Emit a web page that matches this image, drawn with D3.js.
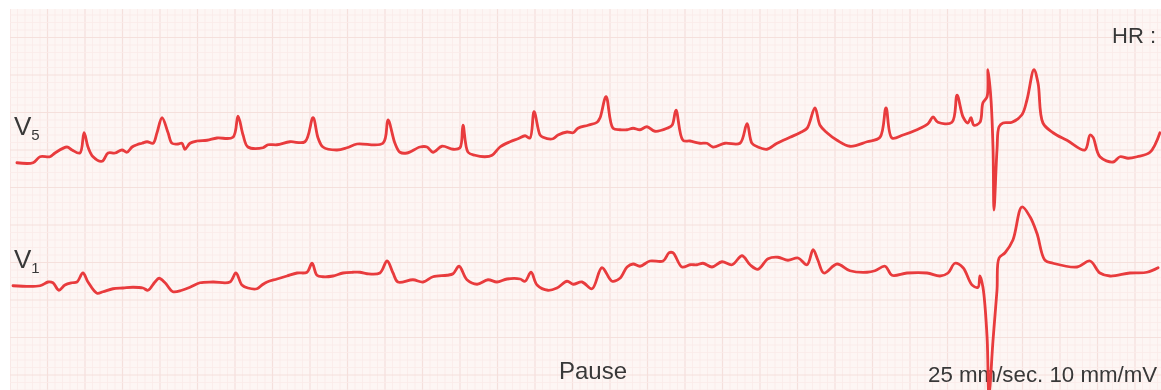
<!DOCTYPE html>
<html>
<head>
<meta charset="utf-8">
<script src="https://cdn.jsdelivr.net/npm/d3@7"></script>
<style>
  html, body { margin: 0; padding: 0; background: #fff; }
  svg { display: block; }
  text { font-family: "Liberation Sans", Arial, Helvetica, sans-serif; fill: #383838; }
</style>
</head>
<body>
<svg id="chart" width="1161" height="390"></svg>
<script>
// lead V5: time (s) and amplitude (mV)
const v5Time = [0.037, 0.123, 0.16, 0.213, 0.24, 0.304, 0.331, 0.373, 0.395, 0.416, 0.443, 0.491, 0.523, 0.56, 0.597, 0.624, 0.651, 0.677, 0.704, 0.731,
  0.763, 0.784, 0.811, 0.843, 0.864, 0.896, 0.917, 0.933, 0.96, 0.997, 1.051, 1.104, 1.189, 1.216, 1.243, 1.269, 1.349, 1.376, 1.424, 1.493,
  1.573, 1.616, 1.643, 1.669, 1.744, 1.797, 1.851, 1.989, 2.016, 2.053, 2.08, 2.117, 2.187, 2.224, 2.256, 2.304, 2.363, 2.4, 2.416, 2.443,
  2.48, 2.533, 2.571, 2.613, 2.667, 2.709, 2.747, 2.773, 2.795, 2.827, 2.843, 2.896, 2.923, 2.971, 3.003, 3.029, 3.083, 3.131, 3.147, 3.179,
  3.216, 3.253, 3.291, 3.323, 3.36, 3.397, 3.44, 3.504, 3.531, 3.552, 3.589, 3.627, 3.68, 3.717, 3.749, 3.813, 3.893, 3.931, 3.957, 3.989,
  4.037, 4.091, 4.16, 4.213, 4.251, 4.293, 4.32, 4.357, 4.411, 4.48, 4.571, 4.64, 4.672, 4.704, 4.763, 4.837, 4.896, 4.923, 4.949, 5.024,
  5.051, 5.083, 5.109, 5.125, 5.141, 5.173, 5.189, 5.211, 5.216, 5.232, 5.243, 5.248, 5.264, 5.275, 5.296, 5.344, 5.397, 5.424, 5.461, 5.483,
  5.509, 5.563, 5.637, 5.733, 5.76, 5.776, 5.813, 5.883, 5.92, 5.963, 6.011, 6.08, 6.133]
const v5Volt = [-0.17, -0.17, -0.09, -0.09, -0.04, 0.04, 0, -0.04, 0.23, 0.04, -0.09, -0.15, -0.04, -0.04, 0, -0.03, 0.04, 0.07, 0.09, 0.11,
  0.09, 0.23, 0.43, 0.23, 0.09, 0.08, 0.09, 0.01, 0.09, 0.12, 0.13, 0.16, 0.17, 0.45, 0.2, 0.04, 0.03, 0.07, 0.07, 0.11,
  0.11, 0.43, 0.16, 0.04, 0, 0.03, 0.08, 0.09, 0.4, 0.09, -0.03, -0.04, 0.04, 0.04, -0.03, 0.05, 0.01, 0.03, 0.33, -0.03,
  -0.07, -0.09, -0.07, 0.04, 0.11, 0.15, 0.19, 0.16, 0.51, 0.2, 0.17, 0.15, 0.2, 0.24, 0.23, 0.29, 0.33, 0.37, 0.43, 0.71,
  0.29, 0.27, 0.27, 0.29, 0.27, 0.31, 0.25, 0.29, 0.33, 0.53, 0.13, 0.12, 0.09, 0.09, 0.04, 0.09, 0.09, 0.35, 0.09, 0.04,
  0.01, 0.09, 0.17, 0.23, 0.29, 0.56, 0.33, 0.23, 0.13, 0.05, 0.11, 0.17, 0.56, 0.16, 0.2, 0.27, 0.35, 0.44, 0.37, 0.37,
  0.73, 0.44, 0.36, 0.43, 0.33, 0.37, 0.63, 0.71, 1.07, 0.67, 0, -0.8, 0, 0.31, 0.36, 0.37, 0.47, 0.67, 1.07, 0.89,
  0.36, 0.23, 0.13, 0, 0.2, 0.17, -0.09, -0.16, -0.09, -0.11, -0.09, -0.03, 0.23]

// lead V1: time (s) and amplitude (mV)
const v1Time = [0.016, 0.16, 0.203, 0.229, 0.261, 0.293, 0.331, 0.357, 0.389, 0.416, 0.464, 0.496, 0.549, 0.603, 0.656, 0.709, 0.736, 0.773, 0.795, 0.827,
  0.869, 0.917, 0.96, 1.013, 1.083, 1.173, 1.205, 1.237, 1.269, 1.317, 1.344, 1.371, 1.424, 1.477, 1.531, 1.584, 1.611, 1.637, 1.669, 1.723,
  1.776, 1.829, 1.867, 1.904, 1.973, 2.011, 2.043, 2.069, 2.149, 2.203, 2.256, 2.331, 2.363, 2.395, 2.437, 2.491, 2.549, 2.597, 2.651, 2.72,
  2.747, 2.779, 2.811, 2.869, 2.917, 2.971, 3.003, 3.051, 3.104, 3.157, 3.211, 3.253, 3.291, 3.323, 3.36, 3.413, 3.483, 3.515, 3.536, 3.584,
  3.627, 3.664, 3.696, 3.744, 3.797, 3.851, 3.904, 3.947, 3.989, 4.043, 4.096, 4.149, 4.203, 4.251, 4.283, 4.309, 4.341, 4.411, 4.48, 4.571,
  4.613, 4.667, 4.704, 4.784, 4.891, 4.96, 5.003, 5.04, 5.083, 5.131, 5.163, 5.173, 5.189, 5.211, 5.221, 5.243, 5.264, 5.275, 5.307, 5.349,
  5.397, 5.44, 5.477, 5.52, 5.563, 5.691, 5.76, 5.813, 5.867, 5.973, 6.064, 6.123]
const v1Volt = [-0.01, -0.01, 0.04, 0.03, -0.07, 0, 0.03, 0.04, 0.16, 0.04, -0.11, -0.09, -0.05, -0.04, -0.03, -0.04, -0.07, 0.04, 0.09, 0.03,
  -0.09, -0.07, -0.03, 0.03, 0.04, 0.04, 0.16, 0, -0.04, -0.05, 0, 0.04, 0.08, 0.12, 0.16, 0.17, 0.29, 0.13, 0.11, 0.12,
  0.16, 0.17, 0.17, 0.15, 0.16, 0.32, 0.16, 0.04, 0.07, 0.04, 0.11, 0.13, 0.15, 0.25, 0.07, 0.01, 0.07, 0.04, 0.08, 0.08,
  0.05, 0.17, 0, -0.07, -0.04, 0.05, 0.01, 0.04, -0.05, 0.23, 0.05, 0.09, 0.24, 0.28, 0.25, 0.32, 0.32, 0.43, 0.43, 0.24,
  0.27, 0.27, 0.29, 0.24, 0.31, 0.27, 0.39, 0.27, 0.21, 0.35, 0.37, 0.33, 0.36, 0.27, 0.47, 0.33, 0.16, 0.28, 0.19, 0.17,
  0.19, 0.25, 0.13, 0.16, 0.16, 0.12, 0.16, 0.29, 0.23, 0, -0.03, 0.12, -0.03, -0.69, -1.47, -0.73, -0.07, 0.36, 0.43, 0.6,
  1.04, 0.91, 0.69, 0.33, 0.29, 0.24, 0.32, 0.16, 0.12, 0.16, 0.17, 0.23]

const leadNames = ["V", "V"]
const leadSubs = ["5", "1"]
const annotations = ["HR :", "Pause", "25 mm/sec. 10 mm/mV"]

const width = 1161
const height = 390
const paper = { left: 10, top: 9 }
const svg = d3.select("#chart")

// 25 mm/sec, 10 mm/mV, 1 mm = 7.5 px
const x = d3.scaleLinear().domain([0, 6.14]).range([paper.left, paper.left + 6.14 * 187.5])
const yV5 = d3.scaleLinear().domain([-1, 1]).range([225, 75])
const yV1 = d3.scaleLinear().domain([-1, 1]).range([360, 210])

const defs = svg.append("defs")
defs.append("clipPath").attr("id", "paper")
    .append("rect").attr("x", paper.left).attr("y", paper.top)
    .attr("width", width - paper.left).attr("height", height - paper.top)
defs.append("filter").attr("id", "soft")
    .append("feGaussianBlur").attr("stdDeviation", 0.45)

// paper background
svg.append("rect")
    .attr("x", paper.left).attr("y", paper.top)
    .attr("width", width - paper.left).attr("height", height - paper.top)
    .attr("fill", "#fdf6f4")

const grid = svg.append("g").attr("clip-path", "url(#paper)")

// vertical grid, every 0.04 s
grid.selectAll(".vx")
    .data(d3.range(0, 155))
    .join("line")
    .attr("x1", d => x(d * 0.04)).attr("x2", d => x(d * 0.04))
    .attr("y1", paper.top).attr("y2", height)
    .attr("stroke", d => d % 5 === 0 ? "#f5e0dc" : "#faebe8")
    .attr("stroke-width", d => d % 5 === 0 ? 1.2 : 0.8)

// horizontal grid, every 0.1 mV
grid.selectAll(".hy")
    .data(d3.range(-33, 20))
    .join("line")
    .attr("y1", d => yV5(d * 0.1)).attr("y2", d => yV5(d * 0.1))
    .attr("x1", paper.left).attr("x2", width)
    .attr("stroke", d => d % 5 === 0 ? "#f5e0dc" : "#faebe8")
    .attr("stroke-width", d => d % 5 === 0 ? 1.2 : 0.8)

// text
const labels = svg.append("g").attr("filter", "url(#soft)")
function leadLabel(i, yBase) {
    const t = labels.append("text").attr("x", 14).attr("y", yBase)
    t.append("tspan").text(leadNames[i]).style("font-size", "26px")
    t.append("tspan").text(leadSubs[i]).attr("dy", 5).style("font-size", "15px")
}
leadLabel(0, 135)
leadLabel(1, 268)

labels.append("text").attr("x", 1112).attr("y", 43).style("font-size", "22px").text(annotations[0])
labels.append("text").attr("x", 559).attr("y", 379).style("font-size", "24px").text(annotations[1])
labels.append("text").attr("x", 928).attr("y", 382).style("font-size", "22.3px").text(annotations[2])

// traces
const traces = svg.append("g").attr("clip-path", "url(#paper)")
const leads = [
    { t: v5Time, v: v5Volt, y: yV5 },
    { t: v1Time, v: v1Volt, y: yV1 }
]
leads.forEach(lead => {
    const line = d3.line()
        .x(i => x(lead.t[i]))
        .y(i => lead.y(lead.v[i]))
        .curve(d3.curveCatmullRom.alpha(0.5))
    traces.append("path")
        .datum(d3.range(lead.t.length))
        .attr("d", line)
        .attr("fill", "none")
        .attr("stroke", "#e83a3c")
        .attr("stroke-width", 2.8)
        .attr("stroke-linejoin", "round")
        .attr("stroke-linecap", "round")
        .attr("filter", "url(#soft)")
})
</script>
</body>
</html>
